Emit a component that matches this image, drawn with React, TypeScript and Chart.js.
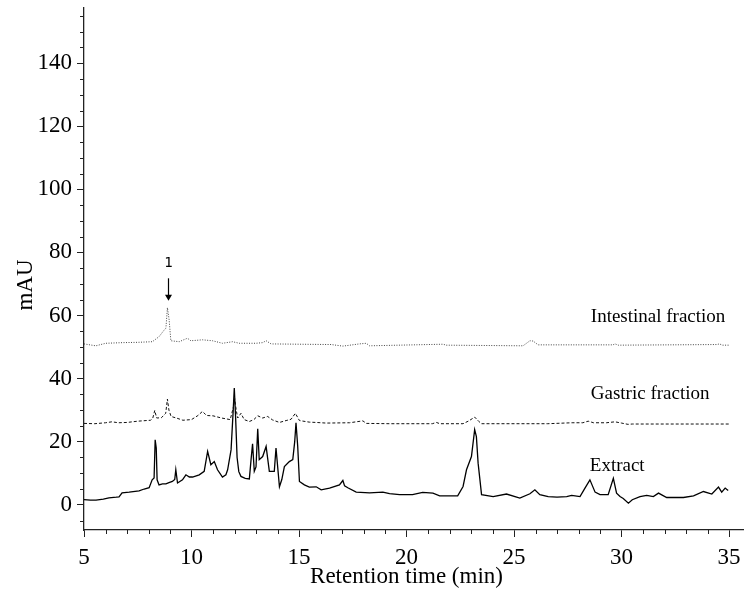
import React, { useEffect, useRef } from "react";
import { Chart, registerables } from "chart.js";

Chart.register(...registerables);

// ---- Axis setup ----
const xMajorTicks = [5, 10, 15, 20, 25, 30, 35];
const yMajorTicks = [0, 20, 40, 60, 80, 100, 120, 140];
const X_MIN = 5;
const X_MAX = 35.65;
const Y_MIN = -8;
const Y_MAX = 157.5;
const xTitle = "Retention time (min)";
const yTitle = "mAU";

// ---- Extract (solid) ----
const extractTime = [
  5.0, 5.3, 5.56, 5.9, 6.16, 6.5, 6.63, 6.77, 7.1, 7.56, 7.8, 8.03, 8.17, 8.26, 8.31, 8.36, 8.4, 8.49,
  8.65, 8.81, 8.95, 9.11, 9.22, 9.27, 9.35, 9.58, 9.74, 9.9, 10.05, 10.36, 10.59, 10.75, 10.9, 11.06,
  11.21, 11.44, 11.6, 11.68, 11.84, 11.94, 11.99, 12.05, 12.12, 12.2, 12.3, 12.5, 12.69, 12.77, 12.84,
  12.92, 13.0, 13.08, 13.15, 13.31, 13.47, 13.62, 13.85, 13.93, 14.09, 14.2, 14.32, 14.55, 14.71, 14.8,
  14.86, 14.94, 15.02, 15.25, 15.48, 15.8, 16.03, 16.42, 16.88, 17.04, 17.12, 17.27, 17.66, 18.28, 18.9,
  19.21, 19.68, 20.28, 20.75, 21.23, 21.54, 22.38, 22.63, 22.79, 23.02, 23.17, 23.25, 23.33, 23.49,
  24.03, 24.65, 25.27, 25.74, 25.97, 26.2, 26.59, 27.0, 27.45, 27.68, 28.07, 28.3, 28.53, 28.77, 29.0,
  29.38, 29.62, 29.77, 29.93, 30.08, 30.32, 30.5, 30.86, 31.17, 31.48, 31.72, 32.1, 32.88, 33.35, 33.81,
  34.2, 34.51, 34.66, 34.82, 34.96,
];
const extractSignal = [
  1.6, 1.5, 1.5, 1.8, 2.2, 2.4, 2.5, 3.8, 4.0, 4.4, 5.0, 5.4, 7.9, 8.5, 20.6, 18.0, 7.9, 6.3,
  6.6, 6.6, 7.0, 7.4, 8.0, 11.1, 6.9, 7.9, 9.5, 8.8, 8.8, 9.5, 10.6, 16.9, 12.7, 13.7,
  11.1, 8.8, 9.5, 11.1, 17.4, 30.0, 37.0, 28.0, 15.0, 10.5, 9.0, 8.4, 8.2, 14.3, 19.3,
  10.6, 12.0, 24.1, 14.3, 15.3, 18.5, 10.6, 10.6, 18.0, 5.7, 8.0, 12.1, 13.7, 14.3, 20.0,
  26.0, 18.5, 7.4, 6.3, 5.6, 5.7, 4.75, 5.3, 6.3, 7.7, 6.0, 5.4, 4.0, 3.8, 4.0,
  3.5, 3.2, 3.2, 3.9, 3.7, 2.85, 2.85, 5.8, 11.1, 15.3, 23.8, 21.6, 13.2, 3.2,
  2.6, 3.4, 2.1, 3.5, 4.75, 3.2, 2.6, 2.4, 2.6, 3.0, 2.6, 5.3, 7.9, 4.0, 3.2,
  3.2, 8.4, 3.7, 2.6, 2.0, 0.5, 1.6, 2.6, 3.0, 2.6, 3.7, 2.3, 2.3, 2.8, 4.2,
  3.4, 5.6, 4.0, 5.3, 4.5,
];

// ---- Gastric fraction (dashed) ----
const gastricTime = [
  5.0, 5.5, 6.0, 6.3, 6.6, 7.0, 7.5, 8.1, 8.2, 8.29, 8.38, 8.6, 8.8, 8.88, 8.95, 9.05, 9.3, 9.6, 10.0,
  10.3, 10.51, 10.7, 11.0, 11.4, 11.8, 11.95, 12.0, 12.08, 12.15, 12.3, 12.45, 12.69, 12.9, 13.08,
  13.31, 13.54, 13.77, 14.09, 14.4, 14.63, 14.83, 15.02, 15.48, 15.8, 16.26, 17.35, 17.97, 18.13,
  19.21, 21.2, 21.39, 21.55, 22.63, 22.9, 23.17, 23.35, 23.49, 26.57, 27.7, 28.2, 28.45, 28.7, 29.3,
  29.7, 30.0, 30.3, 30.5, 35.0,
];
const gastricSignal = [
  25.8, 25.7, 26.0, 26.3, 26.0, 26.1, 26.5, 26.8, 27.5, 29.9, 27.5, 27.6, 29.0, 33.5, 30.0, 28.0, 27.5, 26.8, 27.0,
  28.3, 29.6, 28.3, 28.2, 27.5, 27.0, 31.0, 34.0, 30.0, 27.5, 29.0, 27.0, 26.4, 27.0, 28.2,
  27.5, 28.0, 26.9, 26.1, 26.7, 27.1, 29.0, 26.7, 26.2, 26.1, 25.9, 26.0, 26.6, 25.8,
  25.7, 25.7, 26.1, 25.7, 25.7, 26.6, 27.8, 26.5, 25.7, 25.7, 26.0, 26.0, 26.5, 26.0, 26.0,
  26.3, 25.9, 25.5, 25.6, 25.6,
];

// ---- Intestinal fraction (dotted) ----
const intestinalTime = [
  5.0, 5.55, 6.01, 6.78, 7.5, 8.18, 8.49, 8.73, 8.81, 8.88, 8.96, 9.04, 9.43, 9.81, 9.97, 10.51, 10.98,
  11.44, 11.91, 12.22, 13.0, 13.31, 13.47, 13.7, 15.02, 16.5, 17.04, 17.81, 18.13, 18.28, 21.7, 21.85,
  25.42, 25.74, 25.89, 26.12, 29.6, 29.7, 29.85, 34.44, 34.55, 34.7, 35.0,
];
const intestinalSignal = [
  51.0, 50.4, 51.2, 51.4, 51.5, 51.7, 53.3, 55.4, 56.0, 62.5, 58.6, 52.0, 51.7, 52.8, 52.0, 52.3, 52.0,
  51.2, 51.7, 51.2, 51.2, 51.4, 52.0, 51.0, 50.9, 50.8, 50.3, 51.0, 51.2, 50.4, 50.9, 50.6,
  50.4, 52.0, 51.9, 50.7, 50.7, 51.0, 50.6, 50.8, 51.0, 50.6, 50.6,
];

// ---- Text annotations (data coordinates) ----
const traceLabels = [
  { text: "Intestinal fraction", x: 31.7, y: 58.1 },
  { text: "Gastric fraction", x: 31.33, y: 33.5 },
  { text: "Extract", x: 29.8, y: 10.8 },
];
const peakMarker = { text: "1", x: 8.92, labelY: 76.6, arrowTop: 71.8, arrowTip: 64.7 };

const SERIF = '"Liberation Serif", "Times New Roman", serif';

const toPoints = (t: number[], v: number[]) => t.map((x, i) => ({ x, y: v[i] }));

const decorPlugin = {
  id: "decor",
  afterDraw(chart: any) {
    const { ctx, chartArea } = chart;
    const xs = chart.scales.x;
    const ys = chart.scales.y;
    ctx.save();
    // minor ticks
    ctx.strokeStyle = "#222";
    ctx.lineWidth = 1;
    ctx.beginPath();
    for (let v = 6; v <= 35; v++) {
      if (v % 5 === 0) continue;
      const px = Math.round(xs.getPixelForValue(v)) + 0.5;
      ctx.moveTo(px, chartArea.bottom);
      ctx.lineTo(px, chartArea.bottom + 4);
    }
    for (let v = -5; v <= 155; v += 5) {
      if (v % 20 === 0) continue;
      const py = Math.round(ys.getPixelForValue(v)) + 0.5;
      ctx.moveTo(chartArea.left - 4, py);
      ctx.lineTo(chartArea.left, py);
    }
    ctx.stroke();

    // axis titles
    ctx.fillStyle = "#000";
    ctx.font = `23px ${SERIF}`;
    ctx.textAlign = "center";
    ctx.textBaseline = "middle";
    ctx.fillText(xTitle, xs.getPixelForValue(20), 577);
    ctx.save();
    ctx.translate(26, 285);
    ctx.rotate(-Math.PI / 2);
    ctx.fillText(yTitle, 0, 0);
    ctx.restore();

    // trace labels
    ctx.font = `19px ${SERIF}`;
    ctx.textBaseline = "alphabetic";
    for (const l of traceLabels) {
      ctx.fillText(l.text, xs.getPixelForValue(l.x), ys.getPixelForValue(l.y));
    }

    // peak marker "1" with arrow
    const ax = Math.round(xs.getPixelForValue(peakMarker.x)) + 0.5;
    ctx.font = `14px "DejaVu Sans Mono", monospace`;
    ctx.textBaseline = "middle";
    ctx.fillText(peakMarker.text, ax, ys.getPixelForValue(peakMarker.labelY));
    const top = ys.getPixelForValue(peakMarker.arrowTop);
    const tip = ys.getPixelForValue(peakMarker.arrowTip);
    ctx.strokeStyle = "#000";
    ctx.lineWidth = 1.2;
    ctx.beginPath();
    ctx.moveTo(ax, top);
    ctx.lineTo(ax, tip - 5);
    ctx.stroke();
    ctx.beginPath();
    ctx.moveTo(ax - 3.5, tip - 6);
    ctx.lineTo(ax + 3.5, tip - 6);
    ctx.lineTo(ax, tip);
    ctx.closePath();
    ctx.fill();
    ctx.restore();
  },
};

export default function App() {
  const canvasRef = useRef<HTMLCanvasElement | null>(null);

  useEffect(() => {
    if (!canvasRef.current) return;
    const chart = new Chart(canvasRef.current, {
      type: "line",
      data: {
        datasets: [
          {
            label: "Intestinal fraction",
            data: toPoints(intestinalTime, intestinalSignal),
            borderColor: "#444",
            borderWidth: 1,
            borderDash: [1, 1.5],
            pointRadius: 0,
            tension: 0,
          },
          {
            label: "Gastric fraction",
            data: toPoints(gastricTime, gastricSignal),
            borderColor: "#111",
            borderWidth: 1,
            borderDash: [3, 2],
            pointRadius: 0,
            tension: 0,
          },
          {
            label: "Extract",
            data: toPoints(extractTime, extractSignal),
            borderColor: "#000",
            borderWidth: 1.3,
            pointRadius: 0,
            tension: 0,
          },
        ],
      },
      options: {
        animation: false,
        responsive: false,
        maintainAspectRatio: false,
        layout: { padding: { top: 8, right: 3, left: 0, bottom: 0 } },
        plugins: { legend: { display: false }, tooltip: { enabled: false } },
        scales: {
          x: {
            type: "linear",
            min: X_MIN,
            max: X_MAX,
            afterBuildTicks: (s: any) => {
              s.ticks = xMajorTicks.map((value) => ({ value }));
            },
            afterFit: (s: any) => {
              s.height = 73;
              s.paddingLeft = 0;
              s.paddingRight = 0;
              s.paddingTop = 0;
              s.paddingBottom = 0;
            },
            grid: { display: true, drawOnChartArea: false, drawTicks: true, tickLength: 7, color: "#222", lineWidth: 1 },
            border: { display: true, color: "#222", width: 1.3 },
            ticks: {
              padding: 7,
              color: "#000",
              autoSkip: false,
              maxRotation: 0,
              font: { family: SERIF, size: 23 },
            },
            title: { display: false },
          },
          y: {
            type: "linear",
            min: Y_MIN,
            max: Y_MAX,
            afterBuildTicks: (s: any) => {
              s.ticks = yMajorTicks.map((value) => ({ value }));
            },
            afterFit: (s: any) => {
              s.width = 84;
              s.paddingLeft = 0;
              s.paddingRight = 0;
              s.paddingTop = 0;
              s.paddingBottom = 0;
            },
            grid: { display: true, drawOnChartArea: false, drawTicks: true, tickLength: 7, color: "#222", lineWidth: 1 },
            border: { display: true, color: "#222", width: 1.3 },
            ticks: {
              padding: 5,
              color: "#000",
              autoSkip: false,
              font: { family: SERIF, size: 23 },
            },
            title: { display: false },
          },
        },
      },
      plugins: [decorPlugin],
    });
    return () => chart.destroy();
  }, []);

  return (
    <div style={{ position: "absolute", left: 0, top: 0, width: 746, height: 603, background: "#fff" }}>
      <canvas ref={canvasRef} width={746} height={603} style={{ display: "block", width: 746, height: 603 }} />
    </div>
  );
}
